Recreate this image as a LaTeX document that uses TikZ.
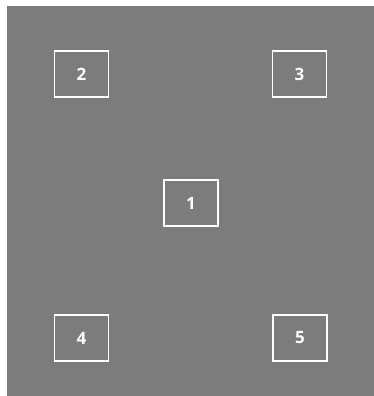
\documentclass[tikz,border=0pt]{standalone}
\usepackage{fontspec}
\setmainfont{Open Sans}
\definecolor{bggray}{RGB}{124,124,124}
\begin{document}
\begin{tikzpicture}[x=1pt,y=-1pt,
  numbox/.style={draw=white, line width=1.5pt, minimum width=54pt, minimum height=46pt, inner sep=0pt, text=white, font=\fontsize{17}{20}\selectfont\bfseries}]
\useasboundingbox (0,0) rectangle (374,396);
\fill[white] (0,0) rectangle (374,396);
\fill[bggray] (7,6) rectangle (374,396);
\node[numbox] (n2) at (81.5,74) {2};
\node[numbox] (n3) at (299.5,74) {3};
\node[numbox] (n1) at (191,203) {1};
\node[numbox] (n4) at (81.5,338) {4};
\node[numbox] (n5) at (300,338) {5};
\end{tikzpicture}
\end{document}
